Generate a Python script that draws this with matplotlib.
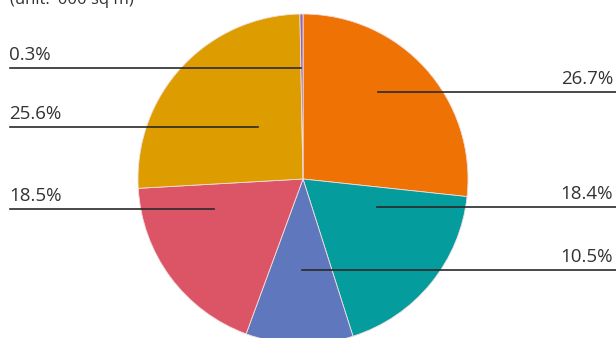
import matplotlib.pyplot as plt

# floor area split, clockwise from 12 o'clock
shares = [26.7, 18.4, 10.5, 18.5, 25.6, 0.3]
labels = ['26.7%', '18.4%', '10.5%', '18.5%', '25.6%', '0.3%']
colors = ['#EE7204', '#059C9E', '#5F77BD', '#DC5566', '#DD9C00', '#8C67B2']

W, H = 616, 338
fig = plt.figure(figsize=(W / 100, H / 100), dpi=100)
ax = fig.add_axes([0, 0, 1, 1])

cx, cy, r = 303, H - 179, 165
ax.pie(shares, colors=colors, startangle=90, counterclock=False,
       center=(cx, cy), radius=r, frame=True,
       wedgeprops=dict(linewidth=0.6, edgecolor='#f3dede'))
ax.set_xlim(0, W)
ax.set_ylim(0, H)
ax.set_aspect('equal')
ax.axis('off')

txt = dict(fontsize=13.5, color='#333333', family='Open Sans')
line = dict(color='#2a2a2a', lw=1.2)

# (label index, line x0, line x1, line y in px from top, side)
leaders = [
    (5, 10, 301, 68, 'left'),
    (4, 10, 258, 127, 'left'),
    (3, 10, 214, 209, 'left'),
    (0, 378, 616, 92, 'right'),
    (1, 377, 616, 207, 'right'),
    (2, 302, 616, 270, 'right'),
]
for i, x0, x1, y, side in leaders:
    yy = H - y
    ax.plot([x0, x1], [yy, yy], **line)
    tx = 9 if side == 'left' else 613
    ax.text(tx, yy + 4, labels[i], ha=side, va='bottom', **txt)

ax.text(10, H + 8, "(unit: '000 sq m)", ha='left', va='top',
        fontsize=12, color='#333333', family='Open Sans')

fig.savefig('out.png', dpi=100)
